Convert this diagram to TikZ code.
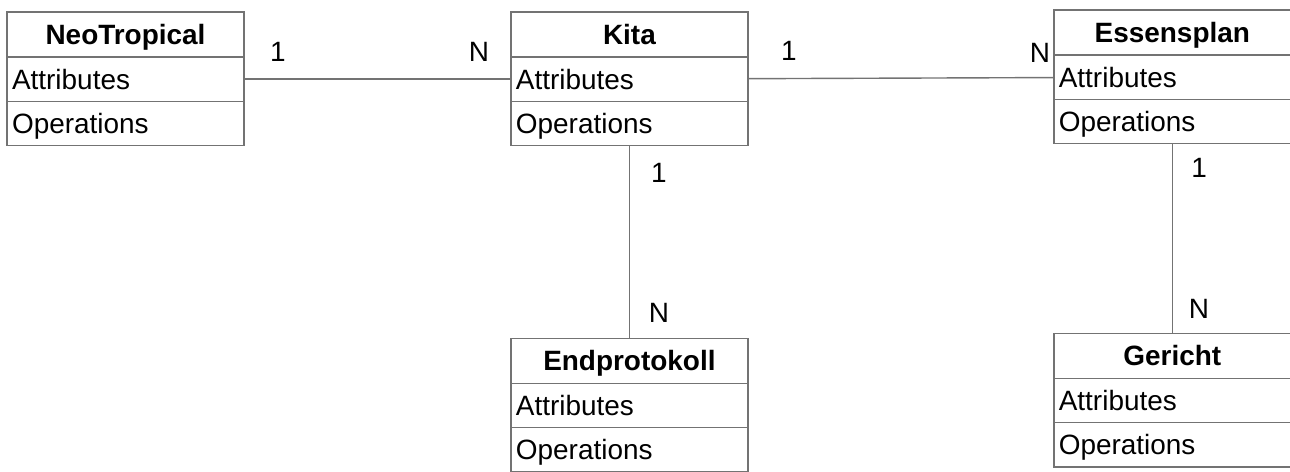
\documentclass[tikz,border=0pt]{standalone}
\usepackage{fontspec}
\setmainfont{Liberation Sans}
\usetikzlibrary{positioning}

\begin{document}
\begin{tikzpicture}[
    x=0.02cm, y=-0.02cm,
    node distance=0pt,
    classhead/.style={draw=black!55, line width=0.8pt, outer sep=0pt, minimum width=4.74cm, minimum height=0.9cm, text height=11.4pt, text depth=0pt, font=\fontsize{15.9}{18}\selectfont\bfseries},
    classrow/.style={draw=black!55, line width=0.8pt, outer sep=0pt, inner xsep=0.1cm, text width=4.54cm, minimum height=0.885cm, text height=11.4pt, text depth=0pt, align=left, font=\fontsize{15.9}{18}\selectfont},
    link/.style={draw=black!55, line width=0.8pt},
    mult/.style={font=\fontsize{15.9}{18}\selectfont}
]
    \useasboundingbox (0,0) rectangle (1290,471);

    % classes
    \node[classhead] (neo) at (125.5,34.5) {NeoTropical};
    \node[classrow, below=of neo] (neoattr) {Attributes};
    \node[classrow, below=of neoattr] (neoops) {Operations};

    \node[classhead, right=5.34cm of neo] (kita) {Kita};
    \node[classrow, below=of kita] (kitaattr) {Attributes};
    \node[classrow, below=of kitaattr] (kitaops) {Operations};

    \node[classhead, right=6.12cm of kita, yshift=0.04cm] (essen) {Essensplan};
    \node[classrow, below=of essen] (essenattr) {Attributes};
    \node[classrow, below=of essenattr] (essenops) {Operations};

    \node[classhead, below=3.86cm of kitaops] (endp) {Endprotokoll};
    \node[classrow, below=of endp] (endpattr) {Attributes};
    \node[classrow, below=of endpattr] (endpops) {Operations};

    \node[classhead, below=3.8cm of essenops] (gericht) {Gericht};
    \node[classrow, below=of gericht] (gerichtattr) {Attributes};
    \node[classrow, below=of gerichtattr] (gerichtops) {Operations};

    % associations
    \draw[link] (neoattr) -- (kitaattr);
    \draw[link] (kitaattr) -- (essenattr);
    \draw[link] (kitaops) -- (endp);
    \draw[link] (essenops) -- (gericht);

    % multiplicities
    \node[mult] (m1) at (278,52) {1};
    \node[mult] (m2) at (479,52) {N};
    \node[mult] (m3) at (789,51) {1};
    \node[mult] (m4) at (1040,53) {N};
    \node[mult] (m5) at (659,173) {1};
    \node[mult] (m6) at (659,313) {N};
    \node[mult] (m7) at (1199,168) {1};
    \node[mult] (m8) at (1199,309) {N};
\end{tikzpicture}
\end{document}
